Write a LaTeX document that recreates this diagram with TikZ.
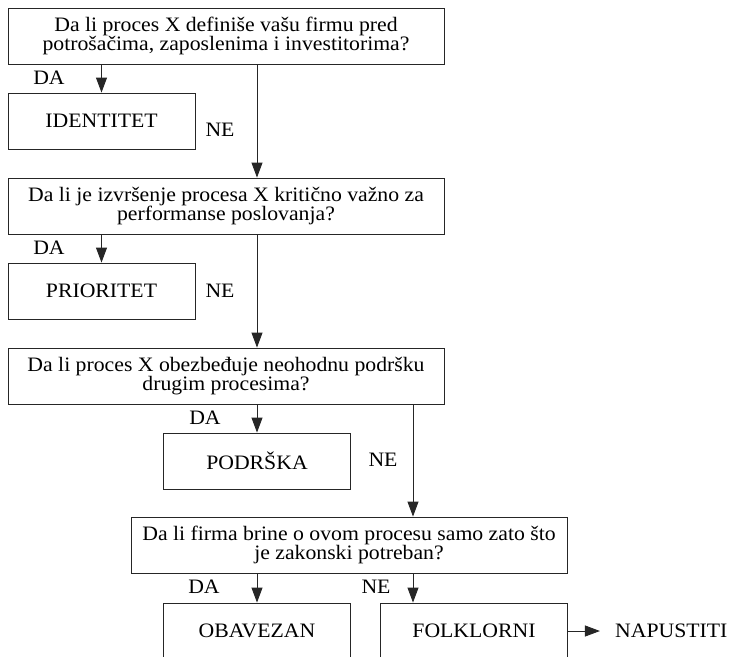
\documentclass[tikz,border=0pt]{standalone}
\usepackage{fontspec}
\setmainfont{Liberation Serif}[FakeStretch=1.06]
\usetikzlibrary{arrows.meta}
\begin{document}
\begin{tikzpicture}[x=1pt,y=-1pt,
  every node/.style={font=\fontsize{20.5}{19.5}\selectfont, inner sep=0pt},
  box/.style={draw=black!85, line width=0.9pt, rectangle, align=center, minimum height=56pt},
  qbox/.style={box, minimum width=436pt},
  abox/.style={box, minimum width=187pt},
  arr/.style={draw=black!85, line width=0.9pt, -{Triangle[length=15pt,width=11pt]}},
  lbl/.style={}]
\useasboundingbox (0,0) rectangle (733,656);
\clip (0,0) rectangle (733,656);

% questions
\node[qbox] (q1) at (226,36)  {Da li proces X definiše vašu firmu pred\\potrošačima, zaposlenima i investitorima?};
\node[qbox] (q2) at (226,206) {Da li je izvršenje procesa X kritično važno za\\performanse poslovanja?};
\node[qbox] (q3) at (226,376) {Da li proces X obezbeđuje neohodnu podršku\\drugim procesima?};
\node[qbox] (q4) at (349,545) {Da li firma brine o ovom procesu samo zato što\\je zakonski potreban?};

% outcomes
\node[abox] (id)  at (101.5,121) {IDENTITET};
\node[abox] (pr)  at (101.5,291) {PRIORITET};
\node[abox] (pod) at (257,461)   {PODRŠKA};
\node[abox] (oba) at (257,631)   {OBAVEZAN};
\node[abox] (fol) at (474,631)   {FOLKLORNI};
\node[anchor=west] (nap) at (615,631) {NAPUSTITI};

\coordinate (ne) at (413,0);

% DA branches
\draw[arr] (q1.south -| id) -- (id.north);
\draw[arr] (q2.south -| pr) -- (pr.north);
\draw[arr] (q3.south -| pod) -- (pod.north);
\draw[arr] (q4.south -| oba) -- (oba.north);

% NE branches
\draw[arr] (q1.south -| pod) -- (q2.north -| pod);
\draw[arr] (q2.south -| pod) -- (q3.north -| pod);
\draw[arr] (q3.south -| ne) -- (q4.north -| ne);
\draw[arr] (q4.south -| ne) -- (fol.north -| ne);
\draw[arr] (fol.east) -- ++(32,0) coordinate (napin);

% branch labels
\node[lbl] (da1) at (49,78)  {DA};
\node[lbl] (ne1) at (220,130) {NE};
\node[lbl] (da2) at (49,248) {DA};
\node[lbl] (ne2) at (220,291) {NE};
\node[lbl] (da3) at (205,418) {DA};
\node[lbl] (ne3) at (383,460) {NE};
\node[lbl] (da4) at (204,587) {DA};
\node[lbl] (ne4) at (376,587) {NE};
\end{tikzpicture}
\end{document}
